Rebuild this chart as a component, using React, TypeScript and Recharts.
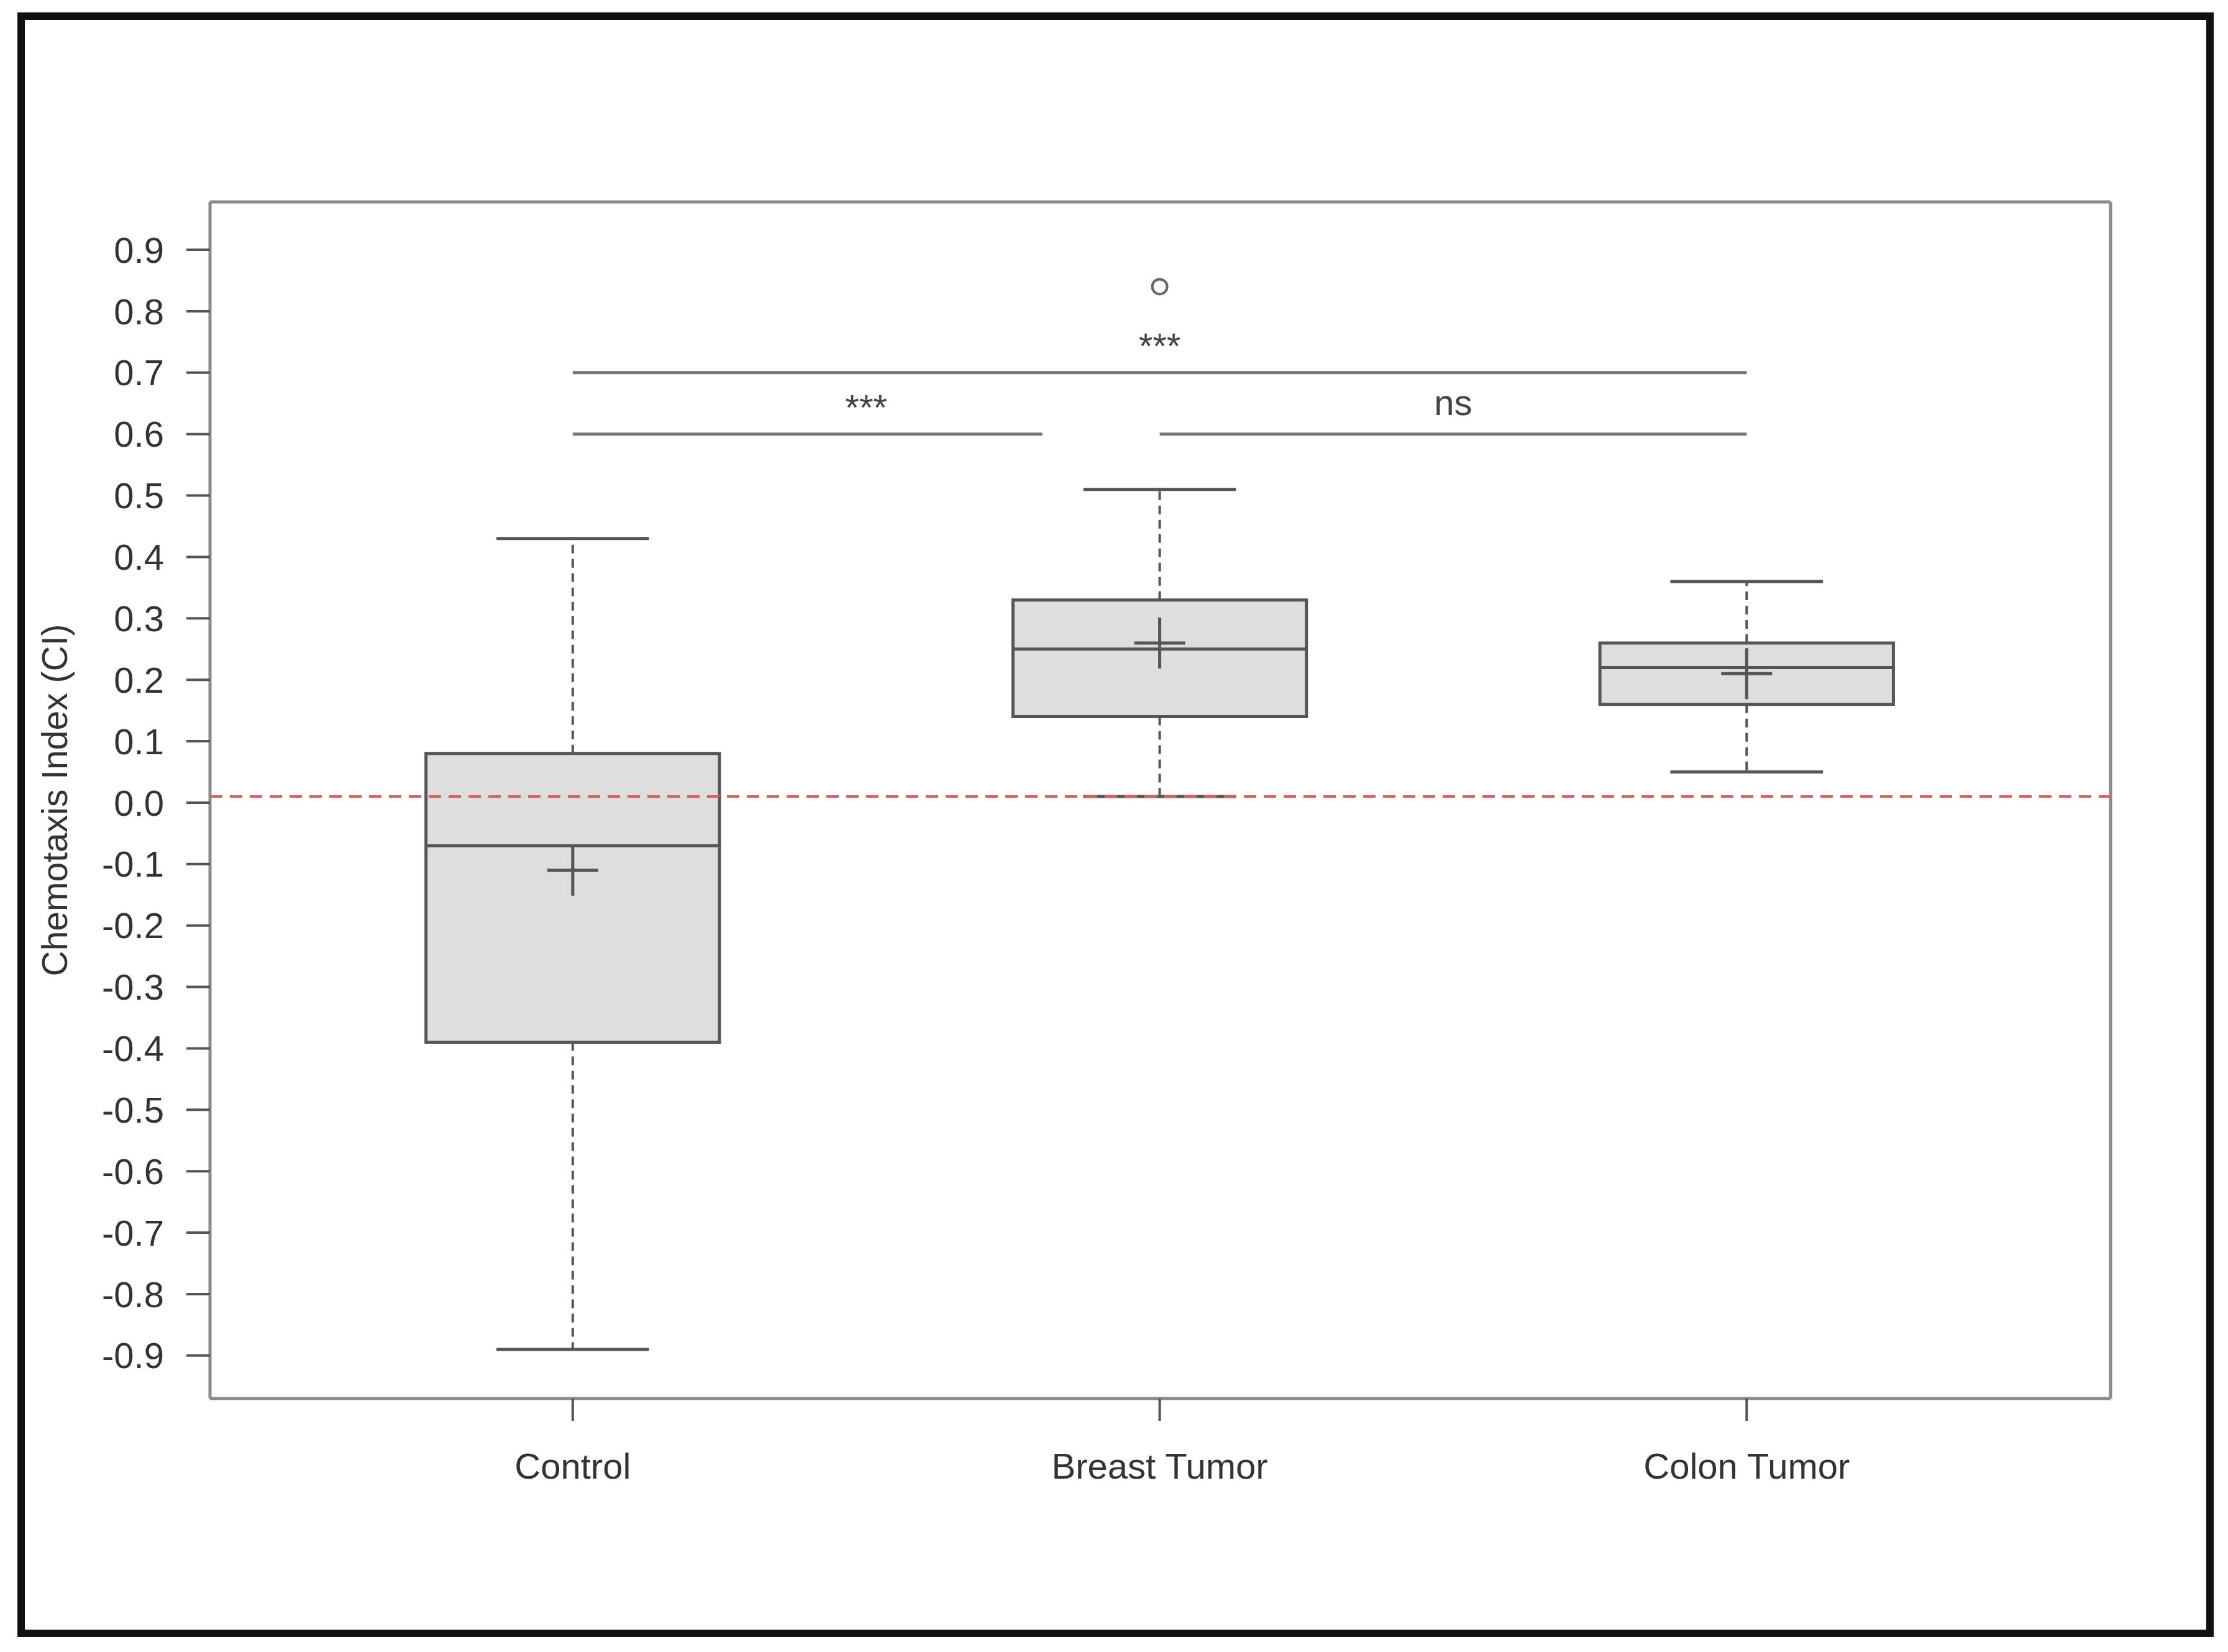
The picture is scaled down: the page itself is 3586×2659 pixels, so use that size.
import React from 'react';
import {
  ComposedChart,
  XAxis,
  YAxis,
  ReferenceArea,
  ReferenceLine,
  ReferenceDot,
  Scatter,
} from 'recharts';

// groups on the x axis (positions 1..3)
const groups = ['Control', 'Breast Tumor', 'Colon Tumor'];
const groupPos = [1, 2, 3];

// box statistics
const whiskerLow = [-0.89, 0.01, 0.05];
const q1 = [-0.39, 0.14, 0.16];
const median = [-0.07, 0.25, 0.22];
const q3 = [0.08, 0.33, 0.26];
const whiskerHigh = [0.43, 0.51, 0.36];
const means = [-0.11, 0.26, 0.21];
const outliers = [{ x: 2, y: 0.84 }];

const yTicks = [0.9, 0.8, 0.7, 0.6, 0.5, 0.4, 0.3, 0.2, 0.1, 0, -0.1, -0.2, -0.3, -0.4, -0.5, -0.6, -0.7, -0.8, -0.9];
const refValue = 0.01;

// significance brackets and their marks
const brackets = [
  { x1: 1, x2: 3, y: 0.7 },
  { x1: 1, x2: 1.8, y: 0.6 },
  { x1: 2, x2: 3, y: 0.6 },
];
const sigLabels = [
  { x: 2, y: 0.744, text: '***' },
  { x: 1.5, y: 0.644, text: '***' },
  { x: 2.5, y: 0.652, text: 'ns' },
];

const X_DOMAIN: [number, number] = [0.382, 3.62];
const Y_DOMAIN: [number, number] = [-0.97, 0.978];
const BOX_HALF = 0.25;
const CAP_HALF = 0.13;
const LINE = '#555';
const FRAME = '#8a8a8a';
const FONT = 'Liberation Sans, Arial, sans-serif';

const MeanCross = (props: any) => {
  const { cx, cy } = props;
  const s = 41;
  return (
    <g>
      <line x1={cx - s} x2={cx + s} y1={cy} y2={cy} stroke={LINE} strokeWidth={5} />
      <line x1={cx} x2={cx} y1={cy - s} y2={cy + s} stroke={LINE} strokeWidth={5} />
    </g>
  );
};

const OpenCircle = (props: any) => {
  const { cx, cy } = props;
  return <circle cx={cx} cy={cy} r={12} fill="#fff" stroke="#666" strokeWidth={4} />;
};

const App = () => {
  const meanData = groupPos.map((x, i) => ({ x, y: means[i] }));

  return (
    <div style={{ position: 'absolute', left: 0, top: 0, width: 3586, height: 2659, background: '#fff', fontFamily: FONT }}>
      <ComposedChart
        width={3586}
        height={2659}
        margin={{ top: 325, right: 189, bottom: 288, left: 0 }}
        style={{ fontFamily: FONT }}
      >
        <XAxis
          dataKey="x"
          type="number"
          domain={X_DOMAIN}
          ticks={groupPos}
          allowDataOverflow
          tickFormatter={(v: number) => groups[v - 1]}
          height={120}
          tickSize={36}
          tickMargin={52}
          tick={{ fontSize: 58, fill: '#333' }}
          tickLine={{ stroke: LINE, strokeWidth: 4 }}
          axisLine={{ stroke: FRAME, strokeWidth: 5 }}
        />
        <YAxis
          type="number"
          domain={Y_DOMAIN}
          ticks={yTicks}
          allowDataOverflow
          interval={0}
          tickFormatter={(v: number) => v.toFixed(1)}
          width={338}
          tickSize={38}
          tickMargin={36}
          tick={{ fontSize: 58, fill: '#333' }}
          tickLine={{ stroke: LINE, strokeWidth: 4 }}
          axisLine={{ stroke: FRAME, strokeWidth: 5 }}
          label={{
            value: 'Chemotaxis Index (CI)',
            angle: -90,
            position: 'insideLeft',
            offset: 88,
            fontSize: 57,
            fill: '#333',
            style: { textAnchor: 'middle' },
          }}
        />

        {/* top and right sides of the plot frame */}
        <ReferenceLine y={Y_DOMAIN[1]} stroke={FRAME} strokeWidth={5} ifOverflow="visible" />
        <ReferenceLine x={X_DOMAIN[1]} stroke={FRAME} strokeWidth={5} ifOverflow="visible" />

        {/* boxes */}
        {groupPos.map((x, i) => (
          <ReferenceArea
            key={'box' + i}
            x1={x - BOX_HALF}
            x2={x + BOX_HALF}
            y1={q1[i]}
            y2={q3[i]}
            fill="#dedede"
            fillOpacity={1}
            stroke={LINE}
            strokeWidth={5}
          />
        ))}

        {/* whiskers */}
        {groupPos.map((x, i) => (
          <ReferenceLine
            key={'wu' + i}
            segment={[{ x, y: q3[i] }, { x, y: whiskerHigh[i] }]}
            stroke="#555"
            strokeWidth={4}
            strokeDasharray="14 9"
          />
        ))}
        {groupPos.map((x, i) => (
          <ReferenceLine
            key={'wl' + i}
            segment={[{ x, y: q1[i] }, { x, y: whiskerLow[i] }]}
            stroke="#555"
            strokeWidth={4}
            strokeDasharray="14 9"
          />
        ))}
        {groupPos.map((x, i) => (
          <ReferenceLine
            key={'cu' + i}
            segment={[{ x: x - CAP_HALF, y: whiskerHigh[i] }, { x: x + CAP_HALF, y: whiskerHigh[i] }]}
            stroke={LINE}
            strokeWidth={5}
          />
        ))}
        {groupPos.map((x, i) => (
          <ReferenceLine
            key={'cl' + i}
            segment={[{ x: x - CAP_HALF, y: whiskerLow[i] }, { x: x + CAP_HALF, y: whiskerLow[i] }]}
            stroke={LINE}
            strokeWidth={5}
          />
        ))}

        {/* medians */}
        {groupPos.map((x, i) => (
          <ReferenceLine
            key={'md' + i}
            segment={[{ x: x - BOX_HALF, y: median[i] }, { x: x + BOX_HALF, y: median[i] }]}
            stroke={LINE}
            strokeWidth={5}
          />
        ))}

        {/* reference level */}
        <ReferenceLine y={refValue} stroke="#d65f5f" strokeWidth={4} strokeDasharray="20 12" />

        {/* significance brackets */}
        {brackets.map((b, i) => (
          <ReferenceLine
            key={'br' + i}
            segment={[{ x: b.x1, y: b.y }, { x: b.x2, y: b.y }]}
            stroke="#777"
            strokeWidth={5}
          />
        ))}
        {sigLabels.map((s, i) => (
          <ReferenceDot
            key={'sl' + i}
            x={s.x}
            y={s.y}
            r={1}
            fill="none"
            stroke="none"
            label={{ value: s.text, position: 'center', fontSize: 58, fill: '#444' }}
          />
        ))}

        <Scatter data={meanData} dataKey="y" shape={MeanCross} isAnimationActive={false} />
        <Scatter data={outliers} dataKey="y" shape={OpenCircle} isAnimationActive={false} />
      </ComposedChart>

      {/* outer frame */}
      <div
        style={{
          position: 'absolute',
          left: 28,
          top: 20,
          width: 3535,
          height: 2615,
          border: '12px solid #111',
          boxSizing: 'border-box',
          pointerEvents: 'none',
        }}
      />
    </div>
  );
};

export default App;
